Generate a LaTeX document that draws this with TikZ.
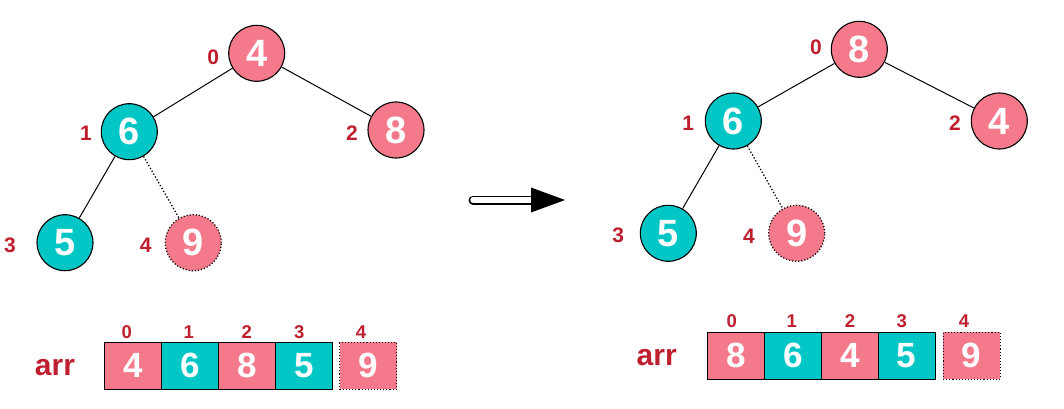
\documentclass[tikz,border=0pt]{standalone}
\usepackage{fontspec}
\setmainfont{Liberation Sans}
\usetikzlibrary{arrows.meta,calc}
\definecolor{pk}{HTML}{F47A8B}
\definecolor{tl}{HTML}{00C6C6}
\definecolor{lr}{HTML}{BE1E2D}
\begin{document}
\begin{tikzpicture}[x=1pt,y=-1pt,
  hnode/.style={circle,draw=black,line width=1.1pt,minimum size=56pt,inner sep=0pt,text=white,font=\fontsize{38}{38}\selectfont\bfseries},
  pnode/.style={hnode,fill=pk},
  tnode/.style={hnode,fill=tl},
  dnode/.style={pnode,dotted,line width=1.3pt},
  idx/.style={text=lr,font=\fontsize{21}{21}\selectfont\bfseries,inner sep=0pt},
  aidx/.style={text=lr,font=\fontsize{18.5}{18.5}\selectfont\bfseries,inner sep=0pt},
  arrlab/.style={text=lr,font=\fontsize{30}{30}\selectfont\bfseries,inner sep=0pt},
  cell/.style={draw=black,line width=1.1pt,minimum width=57pt,minimum height=47pt,inner sep=0pt,text=white,font=\fontsize{35}{35}\selectfont\bfseries},
  pcell/.style={cell,fill=pk},
  tcell/.style={cell,fill=tl},
  dcell/.style={pcell,dotted,line width=1.2pt},
  edge/.style={line width=1pt},
  dedge/.style={line width=1.3pt,dotted}
]
\useasboundingbox (0,0) rectangle (1064,409);
% left tree
\node[pnode] (a0) at (256.7,53.3) {4};
\node[tnode] (a1) at (129.3,131.7) {6};
\node[pnode] (a2) at (396,130) {8};
\node[tnode] (a3) at (65,242.7) {5};
\node[dnode] (a4) at (193.3,242.7) {9};
\draw[edge] (a0) -- (a1);
\draw[edge] (a0) -- (a2);
\draw[edge] (a1) -- (a3);
\draw[dedge] (a1) -- (a4);
\node[idx] (la0) at (213.3,57.3) {0};
\node[idx] (la1) at (86,133) {1};
\node[idx] (la2) at (352,133) {2};
\node[idx] (la3) at (10,245.7) {3};
\node[idx] (la4) at (145.7,245.7) {4};
% left array
\node[arrlab] (arrA) at (55,368) {arr};
\node[pcell] (c0) at (133.2,365.7) {4};
\node[tcell] (c1) at (190,365.7) {6};
\node[pcell] (c2) at (247,365.7) {8};
\node[tcell] (c3) at (304,365.7) {5};
\node[dcell] (c4) at (368.3,365.7) {9};
\node[aidx] (ci0) at (126.7,331.7) {0};
\node[aidx] (ci1) at (188.7,331.7) {1};
\node[aidx] (ci2) at (246.7,331.7) {2};
\node[aidx] (ci3) at (299.3,331.7) {3};
\node[aidx] (ci4) at (361,331.7) {4};
% arrow
\coordinate (arS) at (473,200);
\coordinate (arM) at (531,200);
\coordinate (arE) at (565,200);
\draw[line width=9pt,line cap=round] (arS) -- (arM);
\draw[line width=5.4pt,white,line cap=round] (arS) -- (arM);
\fill[black] (arE) -- ($(arM)+(0,-12.5)$) -- ($(arM)+(0,12.5)$) -- cycle;
% right tree
\node[pnode] (b0) at (859.3,49.3) {8};
\node[tnode] (b1) at (733.3,121) {6};
\node[pnode] (b2) at (999.3,121) {4};
\node[tnode] (b3) at (668.3,233.3) {5};
\node[dnode] (b4) at (796.7,233.3) {9};
\draw[edge] (b0) -- (b1);
\draw[edge] (b0) -- (b2);
\draw[edge] (b1) -- (b3);
\draw[dedge] (b1) -- (b4);
\node[idx] (lb0) at (816,47.3) {0};
\node[idx] (lb1) at (688.3,123.3) {1};
\node[idx] (lb2) at (955,123.3) {2};
\node[idx] (lb3) at (618.3,235) {3};
\node[idx] (lb4) at (749,236) {4};
% right array
\node[arrlab] (arrB) at (656.7,358) {arr};
\node[pcell] (d0) at (736,355.8) {8};
\node[tcell] (d1) at (793.2,355.8) {6};
\node[pcell] (d2) at (850,355.8) {4};
\node[tcell] (d3) at (906.6,355.8) {5};
\node[dcell] (d4) at (971.6,355.8) {9};
\node[aidx] (di0) at (731.7,321) {0};
\node[aidx] (di1) at (791.7,321) {1};
\node[aidx] (di2) at (850,321) {2};
\node[aidx] (di3) at (901.7,321) {3};
\node[aidx] (di4) at (964,321) {4};
\end{tikzpicture}
\end{document}
